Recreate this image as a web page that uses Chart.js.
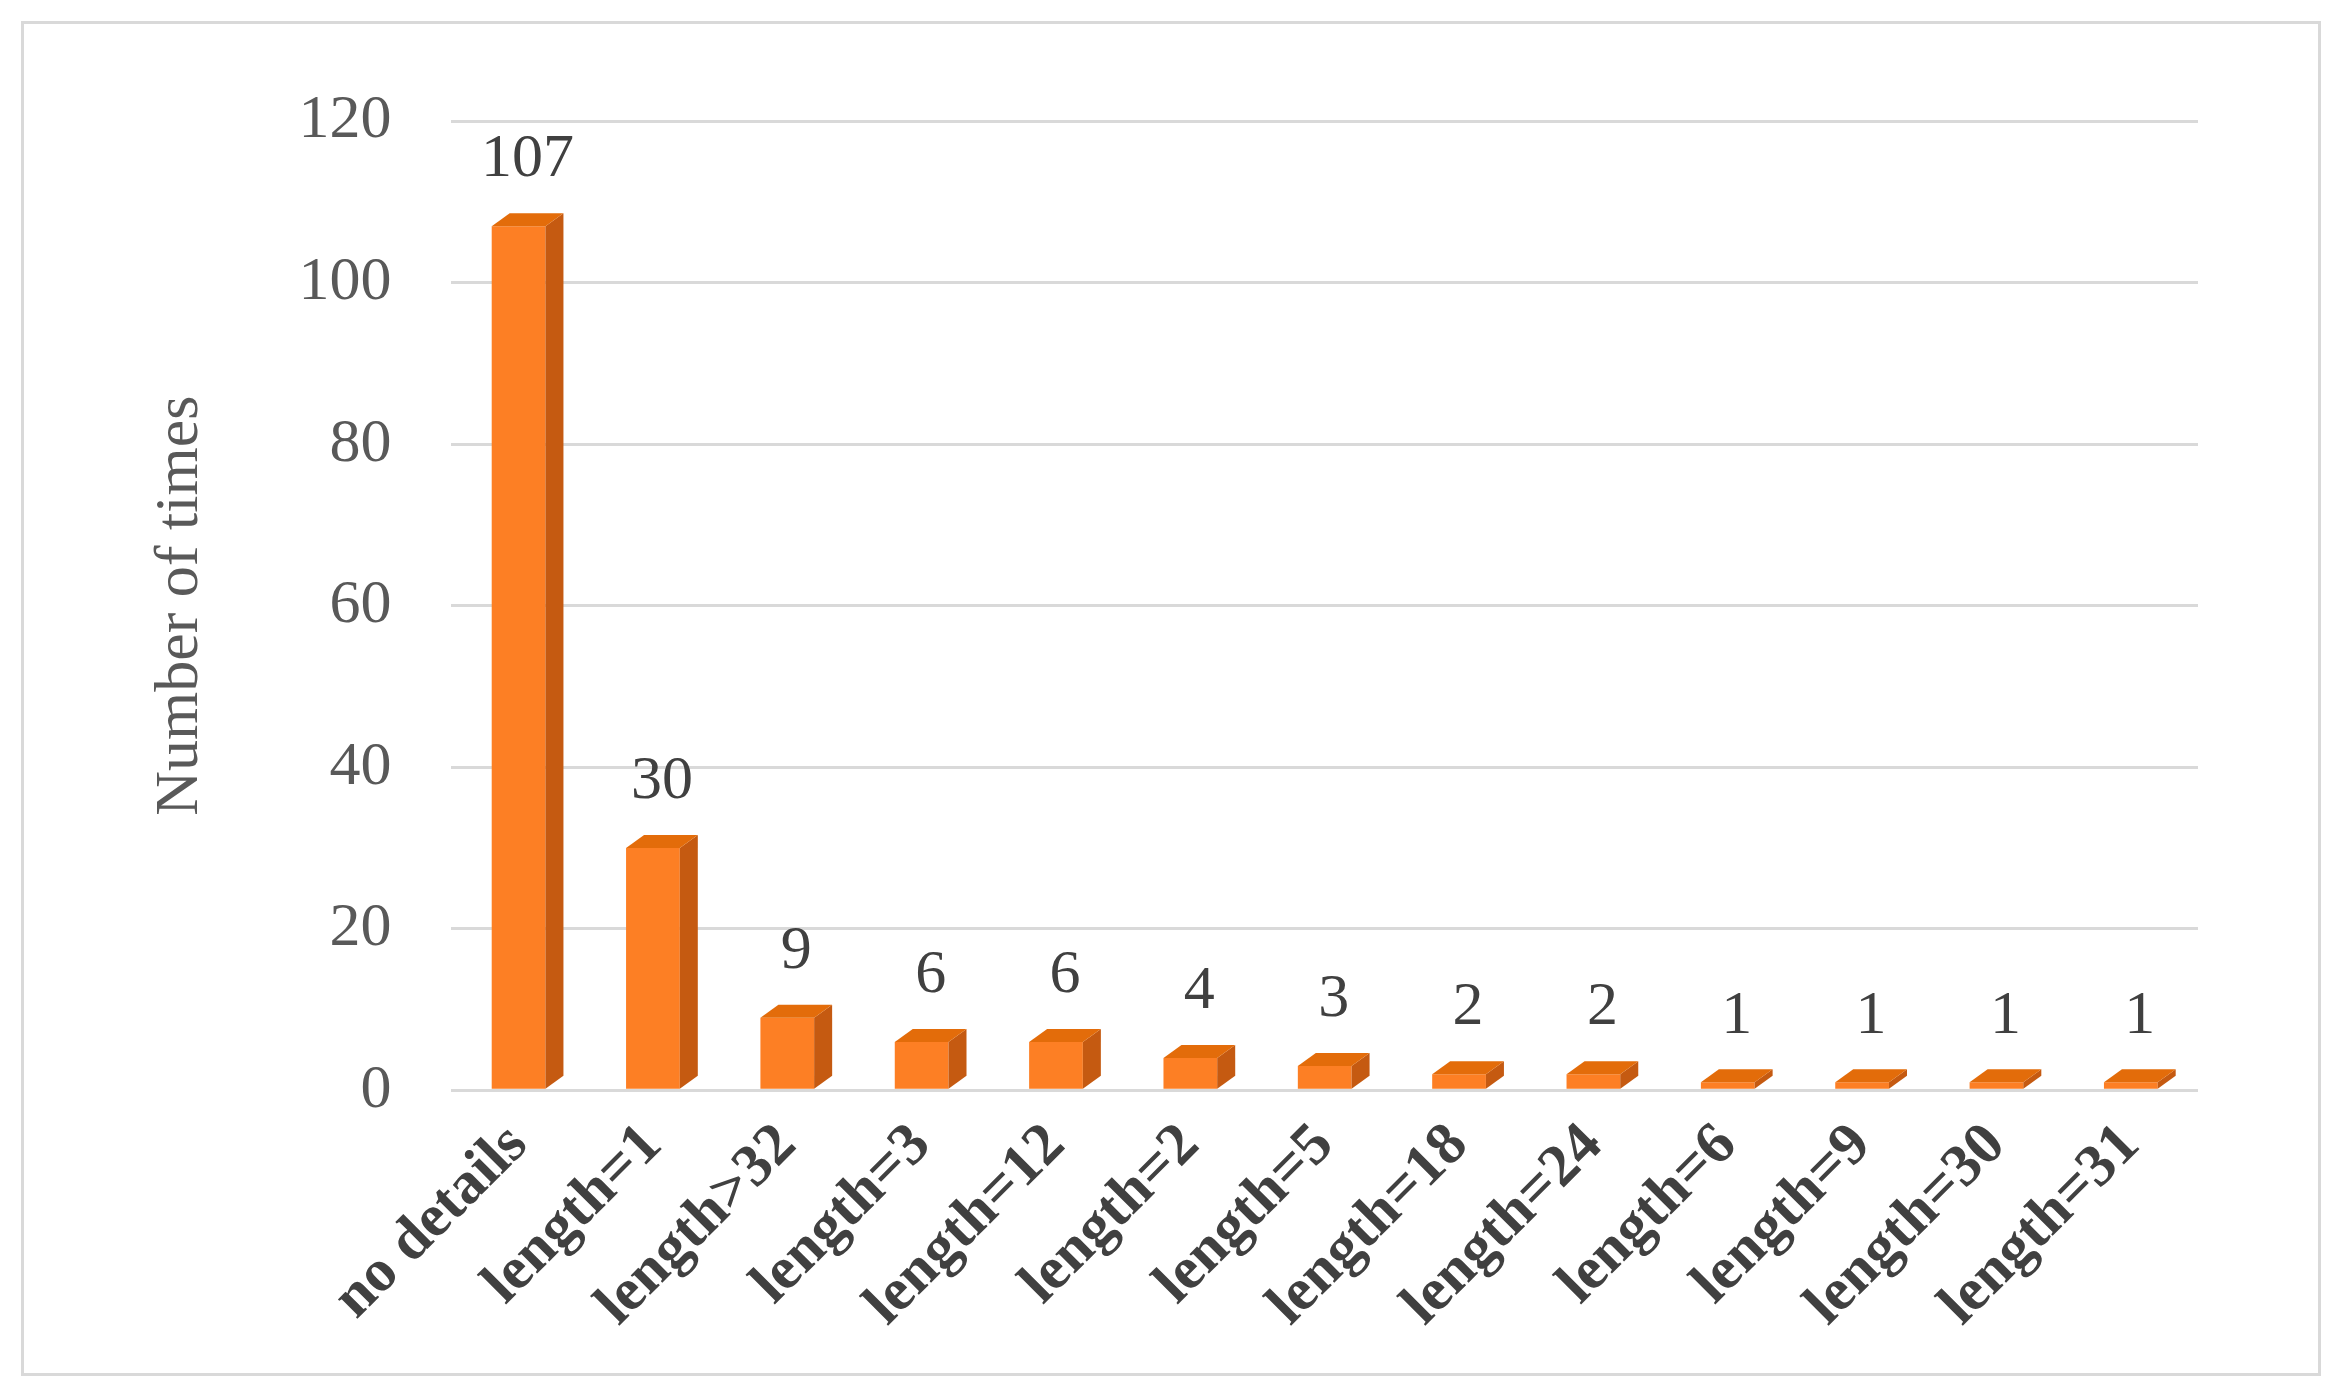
<!DOCTYPE html>
<html>
<head>
<meta charset="utf-8">
<script src="https://cdn.jsdelivr.net/npm/chart.js@4/dist/chart.umd.min.js"></script>
<style>
  html, body { margin: 0; padding: 0; background: #fff; }
  #box { position: absolute; left: 21px; top: 21px; width: 2294px; height: 1349px; border: 3px solid #d9d9d9; }
  canvas { display: block; }
</style>
</head>
<body>
<div id="box"><canvas id="chart"></canvas></div>
<script>
var categories = ["no details", "length=1", "length>32", "length=3", "length=12", "length=2", "length=5",
  "length=18", "length=24", "length=6", "length=9", "length=30", "length=31"];
var counts = [107, 30, 9, 6, 6, 4, 3, 2, 2, 1, 1, 1, 1];
var yTicks = [0, 20, 40, 60, 80, 100, 120];

var FONT = "'Liberation Serif', 'DejaVu Serif', serif";
var DX = 18, DY = 13;

// side and top faces plus value labels on each bar
var bar3d = {
  id: 'bar3d',
  afterDatasetsDraw: function(chart) {
    var ctx = chart.ctx;
    chart.getDatasetMeta(0).data.forEach(function(el, i) {
      var w = el.width, l = el.x - w / 2, r = el.x + w / 2, t = el.y, b = el.base;
      ctx.save();
      ctx.fillStyle = '#c55a11';
      ctx.beginPath();
      ctx.moveTo(r, t); ctx.lineTo(r + DX, t - DY); ctx.lineTo(r + DX, b - DY); ctx.lineTo(r, b);
      ctx.closePath(); ctx.fill();
      ctx.fillStyle = '#e36c0a';
      ctx.beginPath();
      ctx.moveTo(l, t); ctx.lineTo(l + DX, t - DY); ctx.lineTo(r + DX, t - DY); ctx.lineTo(r, t);
      ctx.closePath(); ctx.fill();
      ctx.fillStyle = '#404040';
      ctx.font = '62px ' + FONT;
      ctx.textAlign = 'center';
      ctx.textBaseline = 'bottom';
      ctx.fillText(String(counts[i]), el.x + DX / 2, t - DY - 22);
      ctx.restore();
    });
  }
};

new Chart(document.getElementById('chart'), {
  type: 'bar',
  data: {
    labels: categories,
    datasets: [{
      data: counts,
      backgroundColor: '#fd7f24',
      borderWidth: 0,
      barPercentage: 0.4,
      categoryPercentage: 1.0
    }]
  },
  options: {
    responsive: true,
    maintainAspectRatio: false,
    animation: false,
    layout: { padding: { left: 100, right: 120, top: 90, bottom: 20 } },
    plugins: { legend: { display: false }, tooltip: { enabled: false } },
    scales: {
      x: {
        grid: { display: false },
        border: { display: false },
        ticks: {
          color: '#404040',
          font: { family: FONT, size: 60, weight: 'bold' },
          maxRotation: 45, minRotation: 45,
          padding: 12
        }
      },
      y: {
        min: 0, max: 120,
        afterBuildTicks: function(axis) { axis.ticks = yTicks.map(function(v) { return { value: v }; }); },
        grid: { color: '#d9d9d9', lineWidth: 3, drawTicks: false },
        border: { display: false },
        ticks: { color: '#595959', font: { family: FONT, size: 62 }, padding: 60 },
        title: { display: true, text: 'Number of times', color: '#595959', font: { family: FONT, size: 62 }, padding: 20 }
      }
    }
  },
  plugins: [bar3d]
});
</script>
</body>
</html>
